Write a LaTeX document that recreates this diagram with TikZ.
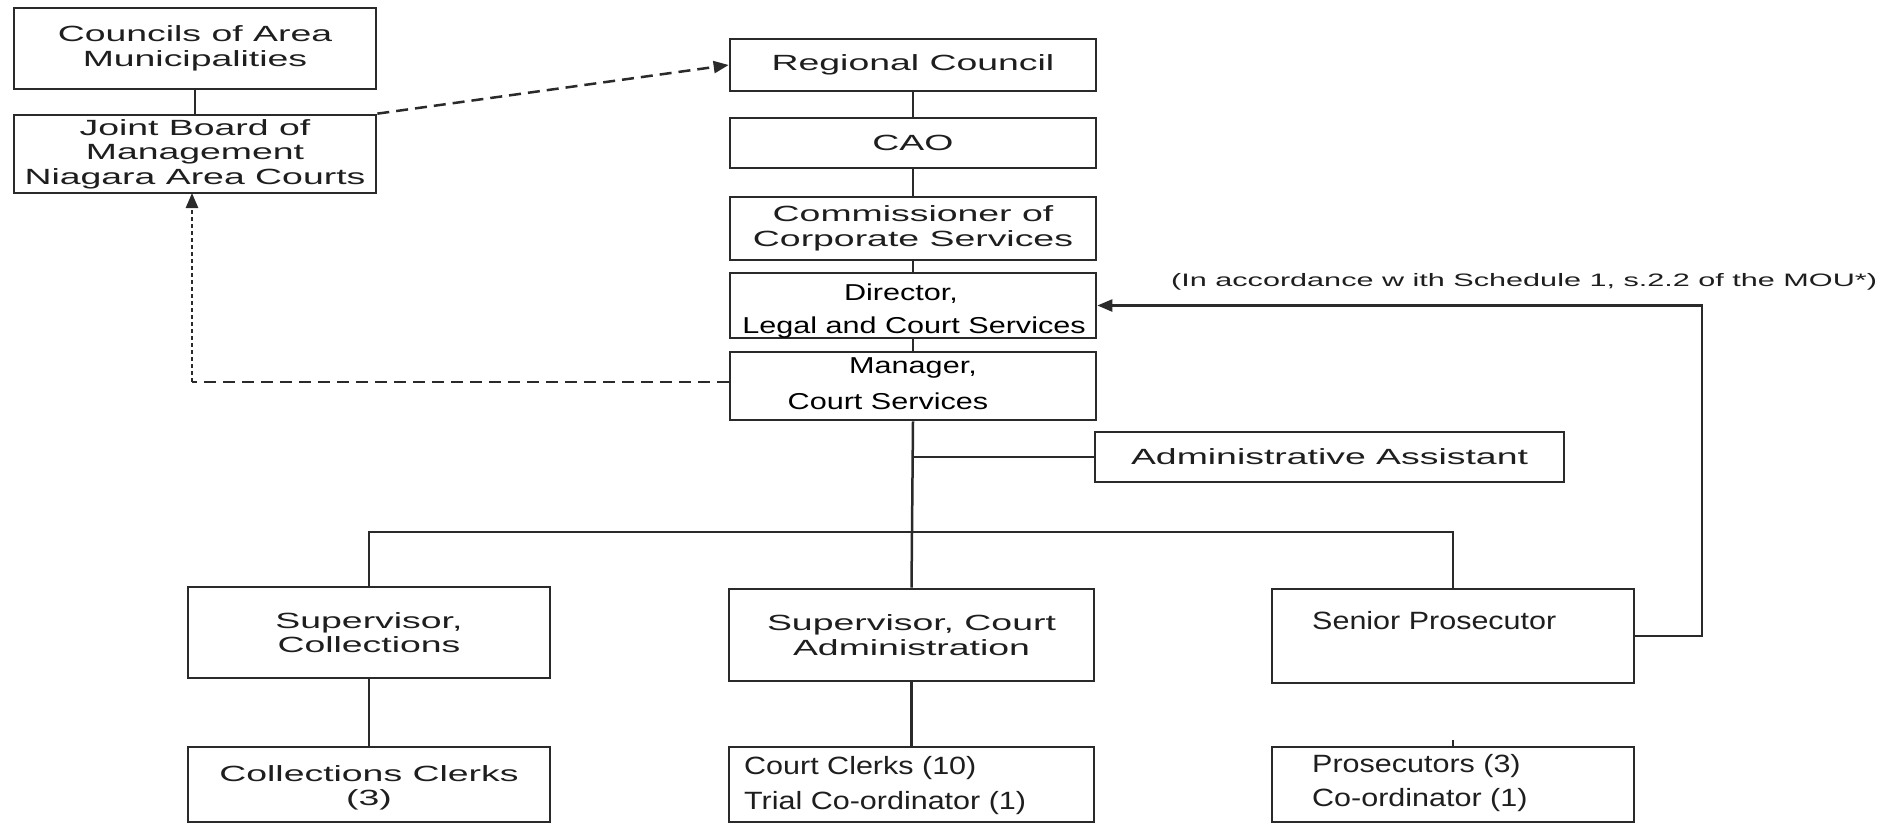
\documentclass[tikz,border=0pt]{standalone}
\usepackage{fontspec}
\setmainfont{Liberation Sans}
\newfontfamily\wf[FakeStretch=1.7]{Liberation Sans}
\newfontfamily\mf[FakeStretch=1.33]{Liberation Sans}
\newfontfamily\nf[FakeStretch=1.22]{Liberation Sans}
\usetikzlibrary{arrows.meta}
\definecolor{ink}{HTML}{2A2A2A}
\definecolor{txt}{HTML}{1E1E1E}
\begin{document}
\begin{tikzpicture}[x=1pt,y=-1pt,
  box/.style={draw=ink, line width=2.7pt, rectangle, inner sep=0pt, align=center, text=txt},
  wide/.style={font=\wf\fontsize{22}{24.5}\selectfont},
  small/.style={font=\wf\fontsize{18}{20}\selectfont, text=txt},
  med/.style={font=\mf\fontsize{23}{34}\selectfont, text=black, inner sep=0pt},
  nar/.style={font=\nf\fontsize{25}{35}\selectfont, text=txt, inner sep=0pt, align=left},
  conn/.style={draw=ink, line width=2.5pt},
  tip/.style={-{Triangle[length=15pt,width=12pt]}},
  longdash/.style={dash pattern=on 12pt off 7pt},
  shortdash/.style={dash pattern=on 4pt off 3pt}
]
\fill[white] (0,0) rectangle (1877,823);
\useasboundingbox (0,0) rectangle (1877,823);

% left column
\node[box, wide, minimum width=362pt, minimum height=81pt] (councils) at (195,48.5) {Councils of Area\\Municipalities};
\node[box, wide, minimum width=362pt, minimum height=78pt] (joint) at (195,154) {Joint Board of\\Management\\Niagara Area Courts};

% central column
\node[box, wide, minimum width=366pt, minimum height=52pt] (regional) at (913,65) {Regional Council};
\node[box, wide, minimum width=366pt, minimum height=50pt] (cao) at (913,143) {CAO};
\node[box, wide, minimum width=366pt, minimum height=63pt] (comm) at (913,228.5) {Commissioner of\\Corporate Services};
\node[box, minimum width=366pt, minimum height=65pt] (director) at (913,305.5) {};
\node[med] (directorA) at (901,294) {Director,};
\node[med] (directorB) at (914,328) {Legal and Court Services};
\node[box, minimum width=366pt, minimum height=68pt] (manager) at (913,386) {};
\node[med] (managerA) at (913,368) {Manager,};
\node[med] (managerB) at (888,401) {Court Services};

\node[box, wide, minimum width=469pt, minimum height=50pt] (admin) at (1329.5,457) {Administrative Assistant};

\node[small, anchor=west, inner sep=0pt] (note) at (1171,282) {(In accordance w ith Schedule 1, s.2.2 of the MOU*)};

% second level
\node[box, wide, minimum width=362pt, minimum height=91pt] (supcoll) at (369,632.5) {Supervisor,\\Collections};
\node[box, wide, minimum width=365pt, minimum height=92pt] (supcourt) at (911.5,635) {Supervisor, Court\\Administration};
\node[box, minimum width=362pt, minimum height=94pt] (senior) at (1453,636) {};
\node[nar, anchor=west] (seniorT) at (1312,621) {Senior Prosecutor};

% third level
\node[box, minimum width=362pt, minimum height=75pt] (collclerks) at (369,784.5) {};
\node[wide, align=center, text=txt] (collclerksT) at (369,788) {Collections Clerks\\(3)};
\node[box, minimum width=365pt, minimum height=75pt] (courtclerks) at (911.5,784.5) {};
\node[nar, anchor=west] (courtclerksA) at (744,768) {Court Clerks (10)};
\node[nar, anchor=west] (courtclerksB) at (744,803) {Trial Co-ordinator (1)};
\node[box, minimum width=362pt, minimum height=75pt] (prosec) at (1453,784.5) {};
\node[nar, anchor=west] (prosecA) at (1312,766) {Prosecutors (3)};
\node[nar, anchor=west] (prosecB) at (1312,800) {Co-ordinator (1)};

% coordinates
\coordinate (busR) at (1453,532);
\coordinate (rc) at (1702,305.5);
\coordinate (dc) at (192,382);
\coordinate (dtop) at (192,193);

% solid connectors
\draw[conn] (councils.south) -- (joint.north);
\draw[conn] (regional.south) -- (cao.north);
\draw[conn] (cao.south) -- (comm.north);
\draw[conn] (comm.south) -- (director.north);
\draw[conn] (director.south) -- (manager.north);
\draw[conn] (manager.south) -- (supcourt.north);
\draw[conn] (manager.south |- admin.west) -- (admin.west);
\draw[conn] (supcoll.north) |- (busR) -- (senior.north);
\draw[conn] (supcoll.south) -- (collclerks.north);
\draw[conn] (supcourt.south) -- (courtclerks.north);
\draw[conn] (prosec.north) -- ++(0,-6);
\draw[conn, tip] (senior.east) -| (rc) -- (director.east);

% dashed connectors
\draw[conn, longdash, tip] (joint.north east) -- (regional.west);
\draw[conn, longdash] (manager.west |- dc) -- (dc);
\draw[conn, shortdash, tip] (dc) -- (dtop);
\end{tikzpicture}
\end{document}
